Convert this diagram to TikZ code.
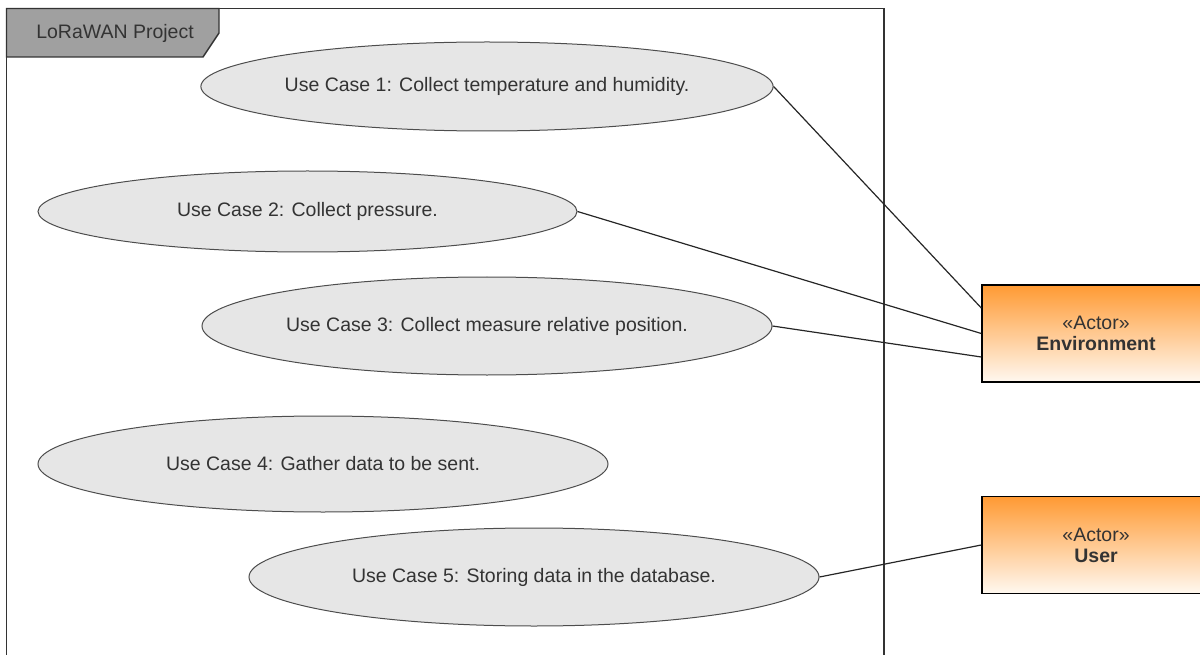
\documentclass[tikz,border=0pt]{standalone}
\usepackage{fontspec}
\setmainfont{Liberation Sans}
\usetikzlibrary{calc,shapes.geometric}
\definecolor{txt}{HTML}{333333}
\definecolor{ucfill}{HTML}{E6E6E6}
\definecolor{ucline}{HTML}{4D4D4D}
\definecolor{tabfill}{HTML}{A0A0A0}
\definecolor{frameline}{HTML}{333333}
\definecolor{orangetop}{HTML}{FF9A33}
\definecolor{orangebot}{HTML}{FFF8F0}
\tikzset{
  usecase/.style={ellipse, draw=ucline, line width=1pt, fill=ucfill, text=txt,
    inner sep=0pt, font=\fontsize{19.5}{22}\selectfont},
  actorbox/.style={rectangle, draw=black, line width=1.4pt, top color=orangetop,
    bottom color=orangebot, minimum width=228pt, minimum height=97pt, inner sep=0pt,
    text=txt, align=center, font=\fontsize{19.5}{21}\selectfont},
  assoc/.style={draw=black!85, line width=1.2pt},
  framebox/.style={draw=frameline, line width=1.4pt},
}
\begin{document}
\begin{tikzpicture}[x=1pt,y=-1pt]
\useasboundingbox (0,0) rectangle (1200,655);
\clip (0,0) rectangle (1200,655);
% frame
\draw[framebox] (6.5,700) -- (6.5,8.5) -- (884,8.5) -- (884,700);
% tab
\draw[framebox, fill=tabfill] (6.5,8.5) -- (219,8.5) -- (219,33) -- (203,57) -- (6.5,57) -- cycle;
\node[text=txt, font=\fontsize{19.5}{22}\selectfont, inner sep=0pt] (title) at (115,33) {LoRaWAN Project};
% use cases
\node[usecase, minimum width=570pt, minimum height=89pt] (uc1) at (487,86.5) {Use Case 1: Collect temperature and humidity.};
\node[usecase, minimum width=539pt, minimum height=81pt] (uc2) at (307.5,211.5) {Use Case 2: Collect pressure.};
\node[usecase, minimum width=570pt, minimum height=98pt] (uc3) at (487,326) {Use Case 3: Collect measure relative position.};
\node[usecase, minimum width=570pt, minimum height=96pt] (uc4) at (323,464) {Use Case 4: Gather data to be sent.};
\node[usecase, minimum width=570pt, minimum height=98pt] (uc5) at (534,577) {Use Case 5: Storing data in the database.};
% actors
\node[actorbox] (env) at (1096,333.5) {«Actor»\\\textbf{Environment}};
\node[actorbox] (user) at (1096,545) {«Actor»\\\textbf{User}};
\coordinate (envA) at ($(env.west)+(0,-25.5)$);
\coordinate (envC) at ($(env.west)+(0,23.5)$);
% associations
\draw[assoc] (uc1.east) -- (envA);
\draw[assoc] (uc2.east) -- (env.west);
\draw[assoc] (uc3.east) -- (envC);
\draw[assoc] (uc5.east) -- (user.west);
\end{tikzpicture}
\end{document}
